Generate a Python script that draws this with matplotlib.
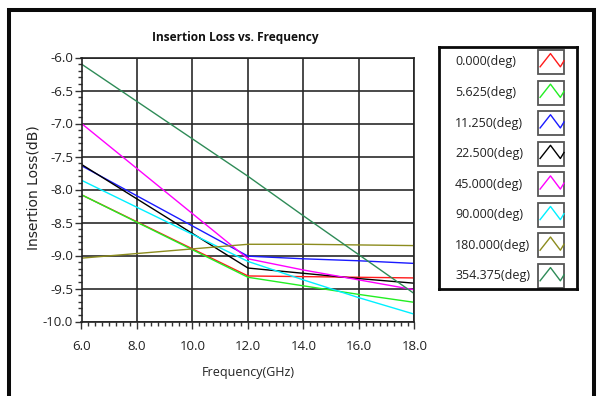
import matplotlib
matplotlib.use("Agg")
import matplotlib.pyplot as plt
from matplotlib.ticker import MultipleLocator, FormatStrFormatter
from matplotlib.patches import Rectangle

# ---- data ----
freq_ghz = [6.0, 12.0, 14.0, 16.0, 18.0]
series_labels = ["0.000(deg)", "5.625(deg)", "11.250(deg)", "22.500(deg)",
                 "45.000(deg)", "90.000(deg)", "180.000(deg)", "354.375(deg)"]
loss_0 = [-8.08, -9.31, -9.32, -9.33, -9.34]
loss_5625 = [-8.08, -9.33, -9.46, -9.59, -9.71]
loss_11250 = [-7.64, -9.01, -9.05, -9.08, -9.12]
loss_22500 = [-7.62, -9.19, -9.27, -9.35, -9.42]
loss_45 = [-7.00, -9.05, -9.22, -9.37, -9.52]
loss_90 = [-7.86, -9.09, -9.37, -9.64, -9.89]
loss_180 = [-9.04, -8.83, -8.83, -8.84, -8.85]
loss_354375 = [-6.10, -7.80, -8.40, -8.99, -9.58]
series_values = [loss_0, loss_5625, loss_11250, loss_22500,
                 loss_45, loss_90, loss_180, loss_354375]
colors = ["#ff1a1a", "#22ee22", "#1a1aff", "#000000",
          "#ff00ff", "#00f0ff", "#8c8c1e", "#2e8b57"]
x_ticks = [6.0, 8.0, 10.0, 12.0, 14.0, 16.0, 18.0]
y_ticks = [-6.0, -6.5, -7.0, -7.5, -8.0, -8.5, -9.0, -9.5, -10.0]

W, H = 598, 396
fig = plt.figure(figsize=(W / 100, H / 100), dpi=100)
fig.patch.set_facecolor("white")

def px(x0, y0, w, h):
    return [x0 / W, 1 - (y0 + h) / H, w / W, h / H]

# outer frame
fig.patches.append(Rectangle((9 / W, -0.1), (594 - 9) / W, 1.1 - 9.5 / H,
                             transform=fig.transFigure, fill=False,
                             edgecolor="#0a0a0a", linewidth=2.9))

# cropped big heading at top (only its lowest pixels are visible)
fig.text(376 / W, 1 + 9 / H, "Frequency", fontsize=25, fontweight="bold",
         family="Open Sans", va="baseline", ha="left", color="#111")

ax = fig.add_axes(px(81.5, 57.5, 333, 264))
for lab, vals, c in zip(series_labels, series_values, colors):
    ax.plot(freq_ghz, vals, color=c, lw=1.0, label=lab)

ax.set_xlim(6.0, 18.0)
ax.set_ylim(-10.0, -6.0)
ax.set_xticks(x_ticks)
ax.set_yticks(y_ticks)
ax.xaxis.set_minor_locator(MultipleLocator(0.25))
ax.yaxis.set_minor_locator(MultipleLocator(0.1))
ax.xaxis.set_major_formatter(FormatStrFormatter("%.1f"))
ax.yaxis.set_major_formatter(FormatStrFormatter("%.1f"))
ax.grid(True, which="major", color="#2a2a2a", lw=1.2)
ax.set_axisbelow(True)
for s in ax.spines.values():
    s.set_color("#222")
    s.set_linewidth(1.2)
ax.tick_params(axis="both", which="major", direction="out", length=5,
               width=1, color="#333", labelsize=9.5, labelcolor="#222")
ax.tick_params(axis="both", which="minor", direction="out", length=3,
               width=1, color="#333")
ax.tick_params(axis="y", which="major", pad=1)
ax.tick_params(axis="x", which="major", pad=8)
for t in ax.get_xticklabels() + ax.get_yticklabels():
    t.set_family("Open Sans")

ax.set_xlabel("Frequency(GHz)", family="Open Sans", fontsize=9, color="#222",
              va="center")
ax.xaxis.set_label_coords(0.5, (321.5 - 372.5) / 264)
ax.set_ylabel("Insertion Loss(dB)", family="DejaVu Sans", fontsize=10,
              color="#222", va="center", ha="center")
ax.yaxis.set_label_coords((33 - 81.5) / 333, 0.506)

fig.text(235 / W, 1 - 38 / H, "Insertion Loss vs. Frequency", family="Open Sans",
         fontweight="bold", fontsize=8.6, ha="center", va="center", color="#111")

# legend panel
lg = fig.add_axes(px(439, 47, 138, 242))
lg.set_xlim(0, 138)
lg.set_ylim(242, 0)
lg.set_xticks([])
lg.set_yticks([])
for s in lg.spines.values():
    s.set_color("#0a0a0a")
    s.set_linewidth(2.0)
zig_fx = [0.08, 0.48, 0.86, 1.0]
zig_fy = [0.3, 0.85, 0.3, 0.55]
for i, (lab, c) in enumerate(zip(series_labels, colors)):
    cy = 15 + i * 30.57
    lg.text(16, cy, lab, family="Open Sans", fontsize=9, color="#222",
            ha="left", va="center")
    bx, bw, bh = 99, 26, 24
    lg.add_patch(Rectangle((bx, cy - bh / 2), bw, bh, fill=False,
                           edgecolor="#555", lw=1.3))
    lg.plot([bx + f * bw for f in zig_fx],
            [cy + bh / 2 - f * bh for f in zig_fy], color=c, lw=1.0)

fig.savefig("out.png", dpi=100)
